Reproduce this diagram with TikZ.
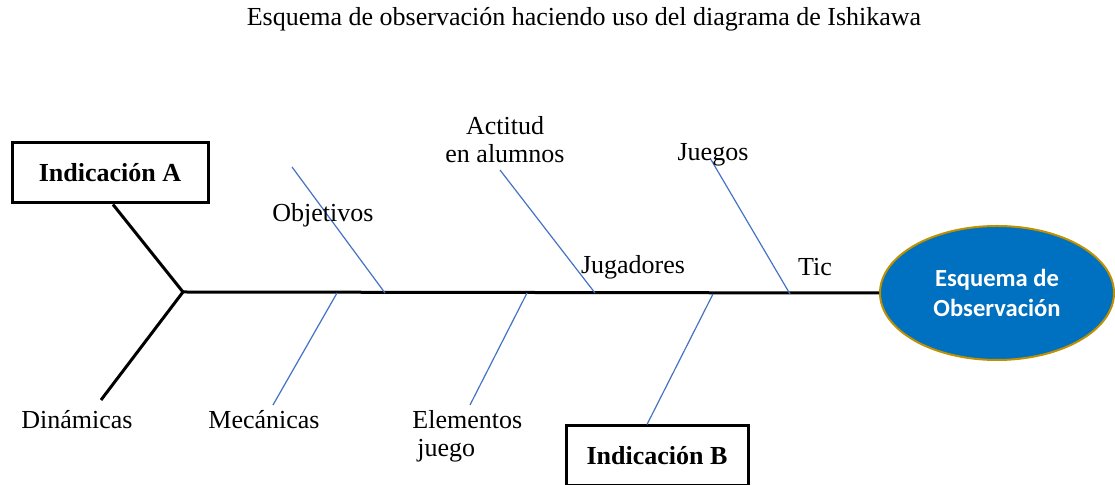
\documentclass[tikz,border=0pt]{standalone}
\usepackage{fontspec}
\setmainfont{Liberation Serif}
\newfontfamily\calib{Carlito}
\usetikzlibrary{shapes.geometric}
\definecolor{bluefill}{HTML}{0070C0}
\definecolor{goldline}{HTML}{BF9000}
\definecolor{boneblue}{HTML}{4472C4}
\begin{document}
\begin{tikzpicture}[x=0.5pt,y=-0.5pt,
  lbl/.style={font=\fontsize{13}{15}\selectfont, inner sep=0pt},
  indbox/.style={draw=black, line width=1.5pt, font=\fontsize{13}{15}\selectfont\bfseries, inner sep=0pt, minimum height=30pt},
  spine/.style={line width=1.5pt, black},
  bone/.style={line width=0.6pt, boneblue},
  effect/.style={ellipse, draw=goldline, line width=1pt, fill=bluefill, text=white, font=\calib\bfseries\fontsize{12.3}{15}\selectfont, align=center, minimum width=117pt, minimum height=67pt, inner sep=0pt}]
\useasboundingbox (0,0) rectangle (1115,485);
% title
\node[lbl] (title) at (584,19) {Esquema de observación haciendo uso del diagrama de Ishikawa};
% head and boxes
\node[effect] (eff) at (997,293) {Esquema de\\Observación};
\node[indbox, minimum width=98pt] (indA) at (110,173) {Indicación A};
\node[indbox, minimum width=91pt] (indB) at (657,456) {Indicación B};
% spine
\coordinate (tail) at (183,292);
\coordinate (dinEnd) at (101,400);
\coordinate (aTop) at (indA.south -| 113,0);
\draw[spine] (tail) -- (eff.west);
\draw[spine] (aTop) -- (tail) -- (dinEnd);
% blue bones
\coordinate (objS) at (292,167);  \coordinate (objE) at (385,293);
\coordinate (actS) at (500,170);  \coordinate (actE) at (595,293);
\coordinate (jueS) at (710,158);  \coordinate (jueE) at (790,294);
\coordinate (mecE) at (273,405);  \coordinate (mecS) at (337,293);
\coordinate (eleE) at (470,405);  \coordinate (eleS) at (527,293);
\coordinate (indBS) at (713,294);
\coordinate (indBE) at (indB.north -| 647,0);
\draw[bone] (objS) -- (objE);
\draw[bone] (actS) -- (actE);
\draw[bone] (jueS) -- (jueE);
\draw[bone] (mecS) -- (mecE);
\draw[bone] (eleS) -- (eleE);
\draw[bone] (indBS) -- (indBE);
% labels
\node[lbl, align=center] (act) at (505,140) {Actitud\\[-1pt]en alumnos};
\node[lbl] (jue) at (713,155) {Juegos};
\node[lbl] (obj) at (323,215) {Objetivos};
\node[lbl] (jug) at (633,267) {Jugadores};
\node[lbl] (tic) at (815,267) {Tic};
\node[lbl] (din) at (77,420) {Dinámicas};
\node[lbl] (mec) at (264,420) {Mecánicas};
\node[lbl, anchor=west] (ele) at (412,420) {Elementos};
\node[lbl, anchor=west] (eleb) at (417,451) {juego};
\end{tikzpicture}
\end{document}
